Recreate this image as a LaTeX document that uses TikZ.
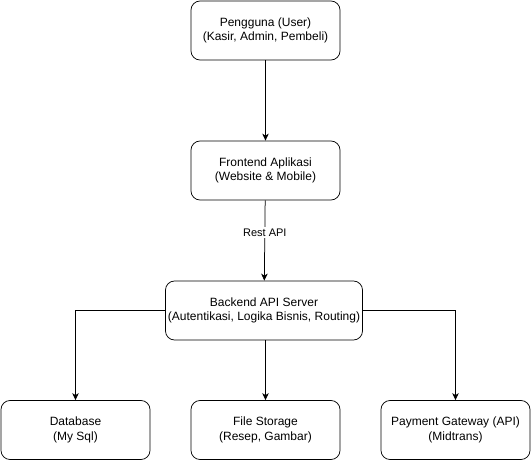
\documentclass[tikz,border=0pt]{standalone}
\usepackage{fontspec}
\setmainfont{Liberation Sans}
\usetikzlibrary{arrows.meta}

\begin{document}
\begin{tikzpicture}[x=1pt,y=1pt,yscale=-1,xscale=1,
  kotak/.style={draw, rounded corners=9pt, minimum width=149pt, minimum height=59pt,
    align=center, inner sep=0pt, line width=0.75pt, font=\fontsize{12}{14.4}\selectfont},
  panah/.style={-{Stealth[length=7pt,width=6.5pt,inset=2pt]}, line width=0.75pt},
  label/.style={fill=white, inner sep=1.5pt, font=\fontsize{11}{13}\selectfont}]
\useasboundingbox (0,0) rectangle (531,461);

%Pengguna
\node [kotak] (user) at (265.5,30.5) {Pengguna (User)\\(Kasir, Admin, Pembeli)};

%Frontend
\node [kotak] (frontend) at (265.5,170.5) {Frontend Aplikasi\\(Website \& Mobile)};

%Backend
\node [kotak, minimum width=197pt] (backend) at (264,310.5) {Backend API Server\\(Autentikasi, Logika Bisnis, Routing)};

%Layanan bawah
\node [kotak] (db) at (75.5,430) {Database\\(My Sql)};
\node [kotak] (file) at (265.5,430) {File Storage\\(Resep, Gambar)};
\node [kotak] (pay) at (455.5,430) {Payment Gateway (API)\\(Midtrans)};

%Panah
\draw [panah] (user) -- (frontend);
\draw [panah] (frontend) -- node [label, pos=0.4] {Rest API} (backend);
\draw [panah] (backend.west) -| (db.north);
\draw [panah] (backend.south -| file.north) -- (file.north);
\draw [panah] (backend.east) -| (pay.north);

\end{tikzpicture}
\end{document}
